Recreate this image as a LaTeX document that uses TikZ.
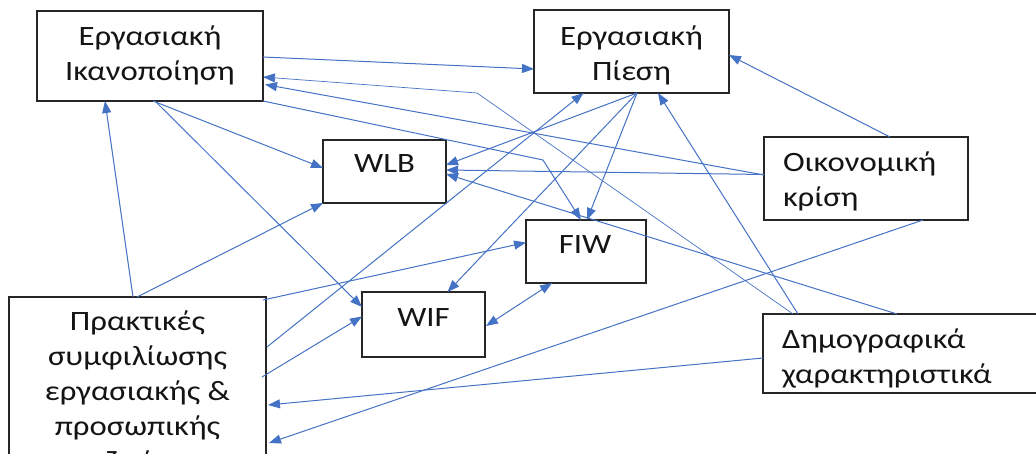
\documentclass[tikz,border=0pt]{standalone}
\usepackage{fontspec}
\setmainfont{Carlito}[FakeStretch=1.17]
\usetikzlibrary{arrows.meta,calc}
\definecolor{linkblue}{RGB}{68,114,196}
\definecolor{boxline}{RGB}{38,38,38}
\definecolor{ink}{RGB}{20,20,20}
\begin{document}
\begin{tikzpicture}[x=1pt,y=-1pt,
  box/.style={draw=boxline,fill=white,line width=2pt,rectangle,inner sep=0pt,outer sep=0pt},
  lbl/.style={inner sep=0pt,outer sep=0pt,text=ink,font=\fontsize{28}{35}\selectfont},
  link/.style={draw=linkblue,line width=1pt,-{Triangle[length=12pt,width=9pt]}},
  thinlink/.style={link,line width=0.7pt},
  bothlink/.style={draw=linkblue,line width=1pt,{Triangle[length=12pt,width=9pt]}-{Triangle[length=12pt,width=9pt]}},
  ]
\useasboundingbox (0,0) rectangle (1036,454);
\clip (0,0) rectangle (1036,454);

% boxes
\node[box,minimum width=226pt,minimum height=90pt] (ei)  at (150,56) {};
\node[box,minimum width=195pt,minimum height=83pt] (ep)  at (631.5,51.5) {};
\node[box,minimum width=123pt,minimum height=63pt] (wlb) at (384.5,171.5) {};
\node[box,minimum width=120pt,minimum height=63pt] (fiw) at (586,251.5) {};
\node[box,minimum width=123pt,minimum height=65pt] (wif) at (423.5,324.5) {};
\node[box,minimum width=204pt,minimum height=83pt] (oik) at (866,178.5) {};
\node[box,minimum width=282pt,minimum height=79pt] (dem) at (904,353.5) {};
\node[box,minimum width=257pt,minimum height=183pt] (pra) at (137.5,388.5) {};

% bend points
\coordinate (k1) at (477,93);
\coordinate (k2) at (543,160);

% connectors
\draw[link] ($(ei.east)+(0,1)$) -- ($(ep.west)+(0,17.5)$);
\draw[thinlink] ($(dem.north)+(-111,0)$) -- (k1) -- ($(ei.east)+(0,21)$);
\draw[link] ($(oik.west)+(0,-3.5)$) -- ($(ei.east)+(2,28.5)$);
\draw[link] ($(ei.south)+(3,0)$) -- ($(wlb.west)+(0,-3.5)$);
\draw[link] ($(ei.south)+(5,0)$) -- ($(wif.west)+(0,-17.5)$);
\draw[link] (ei.south east) -- (k2) -- ($(fiw.north)+(-5,0)$);
\draw[link] ($(ep.south)+(5.5,0)$) -- ($(wlb.east)+(0,-6.5)$);
\draw[link] ($(ep.south)+(5.5,0)$) -- ($(fiw.north)+(1,0)$);
\draw[link] ($(ep.south)+(5.5,0)$) -- ($(wif.north)+(24,0)$);
\draw[link] ($(oik.north)+(24,0)$) -- ($(ep.east)+(0,3.5)$);
\draw[link] ($(oik.west)+(0,-4)$) -- ($(wlb.east)+(0,-1.5)$);
\draw[link] ($(oik.south)+(57,0)$) -- ($(pra.east)+(3,54.5)$);
\draw[link] ($(dem.west)+(0,4.5)$) -- ($(pra.east)+(2,16.5)$);
\draw[link] ($(dem.north)+(-7,0)$) -- ($(wlb.east)+(0,2.5)$);
\draw[link] ($(dem.north)+(-106,0)$) -- ($(ep.south)+(26.5,0)$);
\draw[link] ($(pra.north)+(-4.5,0)$) -- ($(ei.south)+(-45,0)$);
\draw[link] ($(pra.north)+(-0.5,0)$) -- (wlb.south west);
\draw[link] ($(pra.east)+(-3,-88.5)$) -- ($(fiw.west)+(0,-9)$);
\draw[link] ($(pra.east)+(1,-41.5)$) -- ($(ep.south)+(-48,0)$);
\draw[link] ($(pra.east)+(-4,-11.5)$) -- ($(wif.west)+(0,-8)$);
\draw[bothlink] ($(wif.east)+(1,1.5)$) -- ($(fiw.south)+(-34,0)$);

% labels
\node[lbl,align=center] (eit)  at (150,55.5) {Εργασιακή\\Ικανοποίηση};
\node[lbl,align=center] (ept)  at (631.5,55.5) {Εργασιακή\\Πίεση};
\node[lbl] (wlbt) at (384.5,163.5) {WLB};
\node[lbl] (fiwt) at (585,244.5) {FIW};
\node[lbl] (wift) at (423.5,318) {WIF};
\node[lbl,align=left,anchor=west] (oikt) at (783,181) {Οικονομική\\κρίση};
\node[lbl,align=left,anchor=west] (demt) at (782,358.5) {Δημογραφικά\\χαρακτηριστικά};
\node[lbl,align=center] (prat) at (137.5,393) {Πρακτικές\\συμφιλίωσης\\εργασιακής \&\\προσωπικής\\ζωής};
\end{tikzpicture}
\end{document}
